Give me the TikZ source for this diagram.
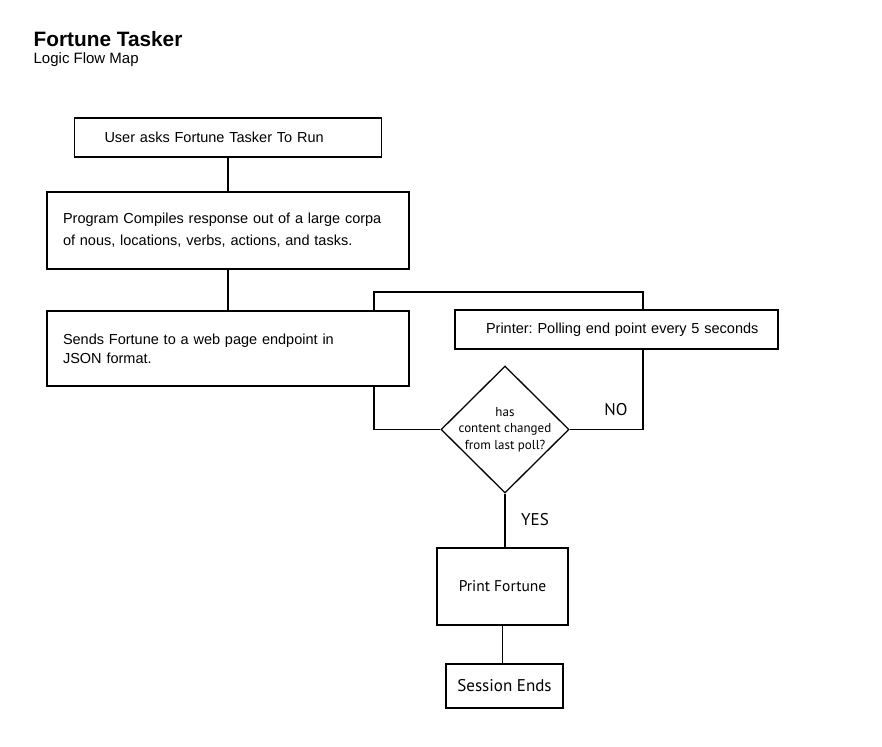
\documentclass[tikz,border=0pt]{standalone}
\usepackage{fontspec}
\setmainfont{Liberation Sans}
\newfontfamily\myriad{PT Sans}
\usetikzlibrary{shapes.geometric}
\frenchspacing

\begin{document}
\begin{tikzpicture}[x=1pt,y=-1pt,line width=1.3pt,font=\fontsize{14.5}{21}\selectfont]
  \tikzstyle{title}=[font=\bfseries\fontsize{20.8}{24}\selectfont, anchor=base west, inner sep=0pt]
  \tikzstyle{subtitle}=[font=\fontsize{15}{18}\selectfont, anchor=base west, inner sep=0pt]
  \tikzstyle{box}=[draw=black, line width=1.3pt, align=left, inner ysep=0pt]
  \tikzstyle{endbox}=[draw=black, line width=1.3pt, align=center, inner sep=0pt, font=\myriad\fontsize{15.5}{18}\selectfont]
  \tikzstyle{decision}=[draw=black, diamond, line width=1.3pt, inner sep=-6pt, minimum width=128pt, minimum height=127pt, align=center, font=\myriad\fontsize{13}{16.5}\selectfont]
  \tikzstyle{answer}=[font=\myriad\fontsize{17}{20}\selectfont]

  \path[use as bounding box] (0,0) rectangle (882,746);

  \node[title] (head) at (33,47) {Fortune Tasker};
  \node[subtitle] (sub) at (33,64) {Logic Flow Map};

  \node[box, text width=247pt, inner xsep=30pt, minimum height=39pt] (ask) at (228,137.5) {User asks Fortune Tasker To Run};
  \node[box, text width=330pt, inner xsep=16pt, minimum height=77pt, font=\fontsize{14.5}{22}\selectfont] (compile) at (228,230.5) {Program Compiles response out of a large corpa\\of nous, locations, verbs, actions, and tasks.};
  \node[box, text width=330pt, inner xsep=16pt, minimum height=75pt, font=\fontsize{14.5}{19}\selectfont] (sends) at (228,348.5) {Sends Fortune to a web page endpoint in\\JSON format.};
  \node[box, text width=303pt, inner xsep=10pt, minimum height=39pt] (printer) at (616.5,329.5) {\hspace*{21pt}Printer: Polling end point every 5 seconds};

  \node[decision] (check) at (505,429.5) {has\\content changed\\from last poll?};
  \node[answer] (no) at (616,410) {NO};
  \node[answer] (yes) at (535,520) {YES};

  \node[endbox, minimum width=131pt, minimum height=77pt] (print) at (502.5,586.5) {Print Fortune};
  \node[endbox, minimum width=117pt, minimum height=44pt, font=\myriad\fontsize{17}{20}\selectfont] (session) at (504.5,686) {Session Ends};

  \coordinate (loopl) at (374,292);
  \coordinate (loopr) at (643,292);

  % main column
  \draw (ask.south) -- (compile.north);
  \draw (compile.south) -- (sends.north);
  % polling loop
  \draw (sends.north -| loopl) -- (loopl) -- (loopr) -- (loopr |- printer.north);
  \draw (sends.south -| loopl) |- (check.west);
  \draw (check.east) -| (loopr |- printer.south);
  % yes branch
  \draw (check.south) -- (check.south |- print.north);
  \draw (print.south) -- (print.south |- session.north);
\end{tikzpicture}
\end{document}
